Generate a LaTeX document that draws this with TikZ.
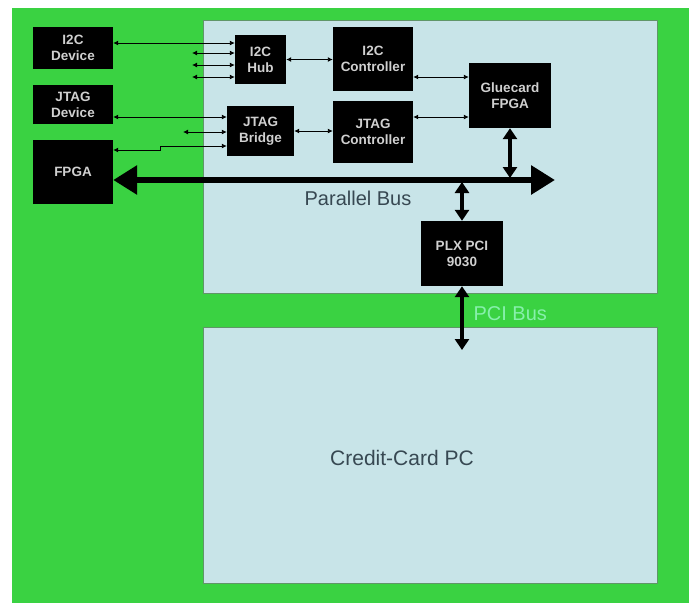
\documentclass[tikz,border=0pt]{standalone}
\usepackage{fontspec}
\setmainfont{Liberation Sans}
\definecolor{boardgreen}{RGB}{58,210,66}
\definecolor{panelblue}{RGB}{200,228,232}
\definecolor{paneledge}{RGB}{96,150,104}
\definecolor{chiptext}{RGB}{208,208,208}
\definecolor{slatetext}{RGB}{55,72,82}
\definecolor{pcigreen}{RGB}{135,240,172}
\usetikzlibrary{arrows.meta}

\begin{document}
\begin{tikzpicture}[x=1pt, y=-1pt,
  chip/.style={fill=black, text=chiptext, font=\fontsize{13.5}{16}\selectfont\bfseries, align=center, inner sep=0pt},
  sig/.style={line width=0.9pt, {Latex[length=5pt 0,width=5pt 0]}-{Latex[length=5pt 0,width=5pt 0]}},
  bus/.style={line width=6pt, {Triangle[length=24pt 0,width=28pt 0]}-{Triangle[length=24pt 0,width=28pt 0]}},
  link/.style={line width=4pt, {Triangle[length=11pt 0,width=14pt 0]}-{Triangle[length=11pt 0,width=14pt 0]}},
  panel/.style={fill=panelblue, draw=paneledge, line width=1pt}]

% --- Background ---
\useasboundingbox (0, 0) rectangle (689, 603);
\fill[white] (0, 0) rectangle (689, 603);
\fill[boardgreen] (12, 8) rectangle (689, 603);

% --- Panels ---
\draw[panel] (203, 20) rectangle (657, 293);
\draw[panel] (203, 327) rectangle (657, 583);
\node[font=\fontsize{21}{24}\selectfont, text=slatetext] (pclabel) at (402, 458) {Credit-Card PC};

% --- Outside devices ---
\node[chip, minimum width=80, minimum height=42] (i2cdev) at (73, 48) {I2C\\Device};
\node[chip, minimum width=80, minimum height=39] (jtagdev) at (73, 104.5) {JTAG\\Device};
\node[chip, minimum width=80, minimum height=64] (fpga) at (73, 172) {FPGA};

% --- Board chips ---
\node[chip, minimum width=51, minimum height=49] (hub) at (260.5, 59.5) {I2C\\Hub};
\node[chip, minimum width=80, minimum height=64] (i2cctl) at (373, 59) {I2C\\Controller};
\node[chip, minimum width=67, minimum height=50] (bridge) at (260.5, 131) {JTAG\\Bridge};
\node[chip, minimum width=80, minimum height=62] (jtagctl) at (373, 132) {JTAG\\Controller};
\node[chip, minimum width=82, minimum height=65] (glue) at (510, 95.5) {Gluecard\\FPGA};
\node[chip, minimum width=82, minimum height=65] (plx) at (462, 253.5) {PLX PCI\\9030};

% --- I2C lines ---
\coordinate (hubin2) at (192, 53);
\coordinate (hubin3) at (192, 65);
\coordinate (hubin4) at (192, 77);
\draw[sig] ([yshift=5pt]i2cdev.east) -- ([yshift=5pt]i2cdev.east -| hub.west);
\draw[sig] (hubin2) -- (hubin2 -| hub.west);
\draw[sig] (hubin3) -- (hubin3 -| hub.west);
\draw[sig] (hubin4) -- (hubin4 -| hub.west);
\draw[sig] (hub.east) -- (hub.east -| i2cctl.west);
\draw[sig] ([yshift=-18pt]i2cctl.east) -- ([yshift=-18pt]i2cctl.east -| glue.west);

% --- JTAG lines ---
\coordinate (bridgein2) at (183, 132);
\coordinate (fpgajog) at (160, 146);
\draw[sig] ([yshift=-12.5pt]jtagdev.east) -- ([yshift=-12.5pt]jtagdev.east -| bridge.west);
\draw[sig] (bridgein2) -- (bridgein2 -| bridge.west);
\draw[sig] ([yshift=22pt]fpga.east) -- ([yshift=22pt]fpga.east -| fpgajog) |- (fpgajog -| bridge.west);
\draw[sig] (bridge.east) -- (bridge.east -| jtagctl.west);
\draw[sig] ([yshift=15pt]jtagctl.east) -- ([yshift=15pt]jtagctl.east -| glue.west);

% --- Parallel bus ---
\coordinate (busend) at (555, 180);
\draw[bus] ([yshift=-8pt]fpga.east) -- (busend);
\node[font=\fontsize{20}{24}\selectfont, text=slatetext] (buslabel) at (358, 198) {Parallel Bus};
\draw[link] (glue.south) -- ([yshift=2pt]glue.south |- busend);
\draw[link] ([yshift=-2pt]plx.north |- busend) -- (plx.north);

% --- PCI bus ---
\coordinate (pcend) at (462, 350);
\draw[link] (plx.south) -- (pcend);
\node[font=\fontsize{20}{24}\selectfont, text=pcigreen, anchor=west] (pcilabel) at (470, 314) {PCI Bus};

\end{tikzpicture}
\end{document}
